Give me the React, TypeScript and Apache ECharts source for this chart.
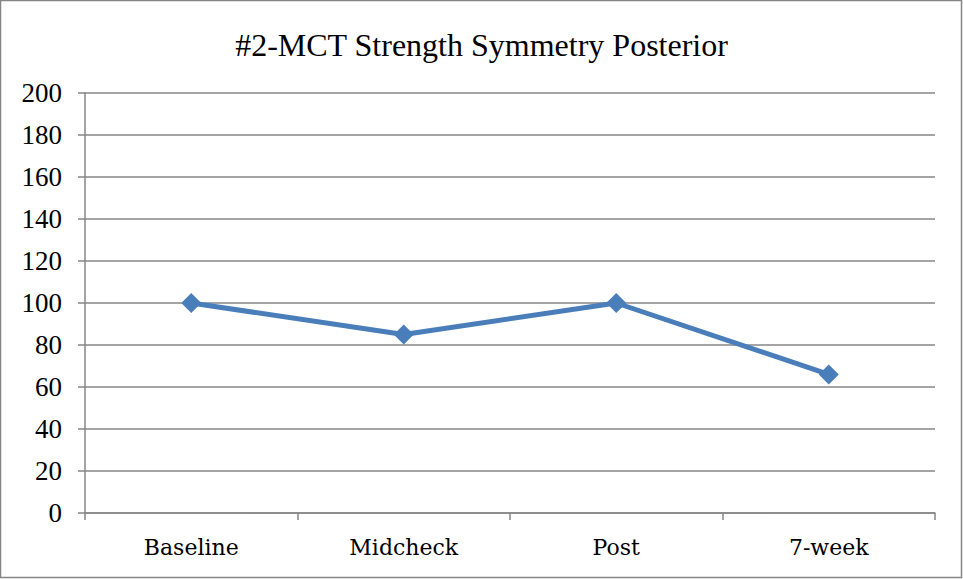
import React, { useEffect, useRef } from "react";
import * as echarts from "echarts";

const categories = ["Baseline", "Midcheck", "Post", "7-week"];
const values = [100, 85, 100, 66];
const titleText = "#2-MCT Strength Symmetry Posterior";

export default function App() {
  const ref = useRef<HTMLDivElement>(null);
  useEffect(() => {
    if (!ref.current) return;
    const chart = echarts.init(ref.current, undefined, { renderer: "svg" });
    chart.setOption({
      animation: false,
      backgroundColor: "#ffffff",
      title: {
        text: titleText,
        left: "center",
        top: 24,
        textStyle: {
          fontFamily: "Liberation Serif",
          fontWeight: "normal",
          fontSize: 32,
          color: "#000000",
        },
      },
      graphic: [
        {
          type: "rect",
          shape: { x: 0.5, y: 0.5, width: 961, height: 577 },
          style: { fill: "none", stroke: "#868686", lineWidth: 1.5 },
          silent: true,
        },
      ],
      grid: { left: 85, right: 28, top: 93, bottom: 66 },
      xAxis: {
        type: "category",
        data: categories,
        boundaryGap: true,
        axisLine: { show: true, lineStyle: { color: "#868686", width: 1.5 } },
        axisTick: { show: true, length: 7, alignWithLabel: false, lineStyle: { color: "#868686", width: 1.5 } },
        axisLabel: {
          fontFamily: "DejaVu Serif",
          fontSize: 22,
          color: "#000000",
          margin: 23,
        },
        splitLine: { show: false },
      },
      yAxis: {
        type: "value",
        min: 0,
        max: 200,
        interval: 20,
        axisLine: { show: true, lineStyle: { color: "#868686", width: 1.5 } },
        axisTick: { show: true, length: 7, lineStyle: { color: "#868686", width: 1.5 } },
        axisLabel: {
          fontFamily: "Liberation Serif",
          fontSize: 27,
          color: "#000000",
          margin: 23,
        },
        splitLine: { show: true, lineStyle: { color: "#868686", width: 1.5 } },
      },
      series: [
        {
          type: "line",
          data: values,
          symbol: "diamond",
          symbolSize: 20,
          lineStyle: { color: "#4a7ebb", width: 5 },
          itemStyle: { color: "#4a7ebb" },
        },
      ],
    });
    return () => chart.dispose();
  }, []);
  return (
    <div
      ref={ref}
      style={{ position: "absolute", left: 0, top: 0, width: 963, height: 579 }}
    />
  );
}
